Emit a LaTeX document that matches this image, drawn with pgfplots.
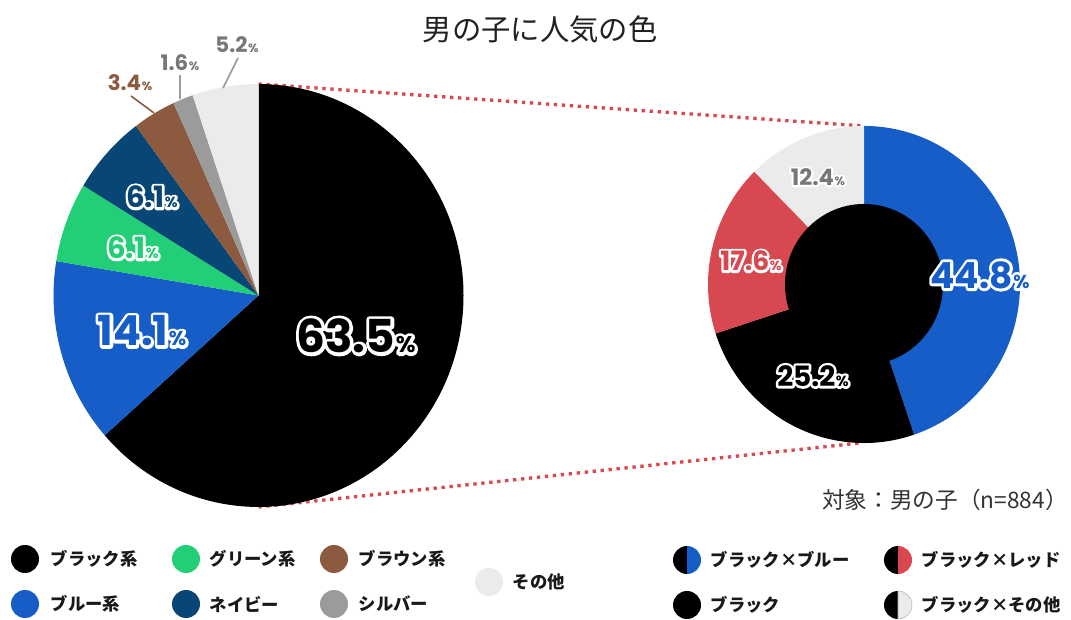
\documentclass[border=0pt]{standalone}
\usepackage{pgfplots}
\pgfplotsset{compat=1.18}
\usepackage{fontspec}
\setmainfont{Noto Sans CJK JP}
\newfontfamily\numfont{Poppins}

\definecolor{cblack}{HTML}{000000}
\definecolor{cblue}{HTML}{165DC8}
\definecolor{cgreen}{HTML}{22CE76}
\definecolor{cnavy}{HTML}{084675}
\definecolor{cbrown}{HTML}{8C5A3E}
\definecolor{csilver}{HTML}{9B9B9B}
\definecolor{cother}{HTML}{EBEBEB}
\definecolor{cred}{HTML}{D84850}
\definecolor{ctext}{HTML}{777777}

% pie wedge: cumulative start %, cumulative end %, colour
\newcommand{\pslice}[3]{\fill[#3] (axis cs:258.5,295.5) -- ++({90-3.6*#1}:153.75pt and 158.6pt)
  arc[start angle={90-3.6*#1}, end angle={90-3.6*#2}, x radius=153.75pt, y radius=158.6pt] -- cycle;}
\newcommand{\dslice}[3]{\fill[#3] (axis cs:864,284.5) -- ++({90-3.6*#1}:117pt and 118.9pt)
  arc[start angle={90-3.6*#1}, end angle={90-3.6*#2}, x radius=117pt, y radius=118.9pt] -- cycle;}
% value label: text, big size, small size
\newcommand{\pct}[3]{{\numfont\bfseries\fontsize{#2}{#2}\selectfont #1\kern0.5pt{\fontsize{#3}{#3}\selectfont\%}}}
% white outline: stroked copy under the filled one
\newcommand{\outl}[2]{\leavevmode\rlap{\special{pdf:literal direct 1 Tr #1 w 1 1 1 RG 1 j 1 J}#2\special{pdf:literal direct 0 Tr}}#2}
\newcommand{\lab}[7]{\node[text=#3] at (axis cs:#1,#2) {\outl{#7}{\pct{#4}{#5}{#6}}};}

\begin{document}
\begin{tikzpicture}
\begin{axis}[
    hide axis,
    scale only axis,
    width=803.25pt, height=462.75pt,
    xmin=0, xmax=1071, ymin=0, ymax=617,
    y dir=reverse,
    clip=false,
]
\addplot[draw=none] coordinates {(0,0) (1071,617)};

% dotted connectors
\draw[cred, line width=2.5pt, dash pattern=on 2.5pt off 3.5pt] (axis cs:258.5,84) -- (axis cs:864,126);
\draw[cred, line width=2.5pt, dash pattern=on 2.5pt off 3.5pt] (axis cs:258.5,507) -- (axis cs:860,443);

% main pie: 63.5, 14.1, 6.1, 6.1, 3.4, 1.6, 5.2
\pslice{0}{63.5}{cblack}
\pslice{63.5}{77.6}{cblue}
\pslice{77.6}{83.7}{cgreen}
\pslice{83.7}{89.8}{cnavy}
\pslice{89.8}{93.2}{cbrown}
\pslice{93.2}{94.8}{csilver}
\pslice{94.8}{100}{cother}

% breakdown of black: 44.8, 25.2, 17.6, 12.4
\dslice{0}{44.8}{cblue}
\dslice{44.8}{70.0}{cblack}
\dslice{70.0}{87.6}{cred}
\dslice{87.6}{100}{cother}
\fill[cblack] (axis cs:864,284.5) ellipse[x radius=59.25pt, y radius=60.4pt];

% leader lines
\draw[cbrown, line width=1.2pt] (axis cs:131,96) -- (axis cs:154,113);
\draw[csilver, line width=1.2pt] (axis cs:180,75) -- (axis cs:180,99);
\draw[csilver, line width=1.2pt] (axis cs:238,58) -- (axis cs:223,88);

% value labels
\lab{356}{336}{cblack}{63.5}{34}{17}{5}
\lab{142}{331}{cblue}{14.1}{31}{15}{4.6}
\lab{152}{197}{cnavy}{6.1}{22}{11}{3.8}
\lab{133}{248}{cgreen}{6.1}{22}{11}{3.8}
\lab{980}{275}{cblue}{44.8}{27}{14}{4.4}
\lab{751}{261}{cred}{17.6}{20}{10}{3.6}
\lab{813}{376}{cblack}{25.2}{21}{11}{3.8}
\lab{818}{177}{ctext}{12.4}{17}{9}{3}
\node[text=cbrown] at (axis cs:130,83) {\pct{3.4}{16}{9}};
\node[text=ctext] at (axis cs:180,63) {\pct{1.6}{16}{9}};
\node[text=ctext] at (axis cs:237,45) {\pct{5.2}{16}{9}};

% title and note
\node[text=black!87, font=\fontsize{22}{22}\selectfont] at (axis cs:540,29) {男の子に人気の色};
\node[text=black!80, font=\fontsize{17}{17}\selectfont, anchor=east, inner sep=0pt] at (axis cs:1068,500) {対象：男の子（n=884）};

% legend, left
\fill[cblack] (axis cs:25,559) circle[radius=10.5pt];
\fill[cblue] (axis cs:25,604) circle[radius=10.5pt];
\fill[cgreen] (axis cs:186,559) circle[radius=10.5pt];
\fill[cnavy] (axis cs:186,604) circle[radius=10.5pt];
\fill[cbrown] (axis cs:334,559) circle[radius=10.5pt];
\fill[csilver] (axis cs:334,604) circle[radius=10.5pt];
\fill[cother] (axis cs:489,582) circle[radius=10.5pt];
\begin{scope}[every node/.style={anchor=west, font=\bfseries\fontsize{13}{13}\selectfont, text=black!90}]
\node at (axis cs:46,559) {ブラック系};
\node at (axis cs:46,604) {ブルー系};
\node at (axis cs:205,559) {グリーン系};
\node at (axis cs:205,604) {ネイビー};
\node at (axis cs:354,559) {ブラウン系};
\node at (axis cs:354,604) {シルバー};
\node at (axis cs:508,582) {その他};
\end{scope}

% legend, right
\fill[cblack] (axis cs:687,560) ++(0,10.5pt) arc[start angle=90, end angle=270, radius=10.5pt] -- cycle;
\fill[cblue] (axis cs:687,560) ++(0,-10.5pt) arc[start angle=-90, end angle=90, radius=10.5pt] -- cycle;
\fill[cblack] (axis cs:898,560) ++(0,10.5pt) arc[start angle=90, end angle=270, radius=10.5pt] -- cycle;
\fill[cred] (axis cs:898,560) ++(0,-10.5pt) arc[start angle=-90, end angle=90, radius=10.5pt] -- cycle;
\fill[cblack] (axis cs:687,605) circle[radius=10.5pt];
\fill[cblack] (axis cs:898,605) ++(0,10.5pt) arc[start angle=90, end angle=270, radius=10.5pt] -- cycle;
\filldraw[cother, draw=black!30, line width=0.4pt] (axis cs:898,605) ++(0,-10.5pt) arc[start angle=-90, end angle=90, radius=10.5pt] -- cycle;
\begin{scope}[every node/.style={anchor=west, font=\bfseries\fontsize{13}{13}\selectfont, text=black!90}]
\node at (axis cs:706,560) {ブラック×ブルー};
\node at (axis cs:917,560) {ブラック×レッド};
\node at (axis cs:706,605) {ブラック};
\node at (axis cs:917,605) {ブラック×その他};
\end{scope}
\end{axis}
\end{tikzpicture}
\end{document}
